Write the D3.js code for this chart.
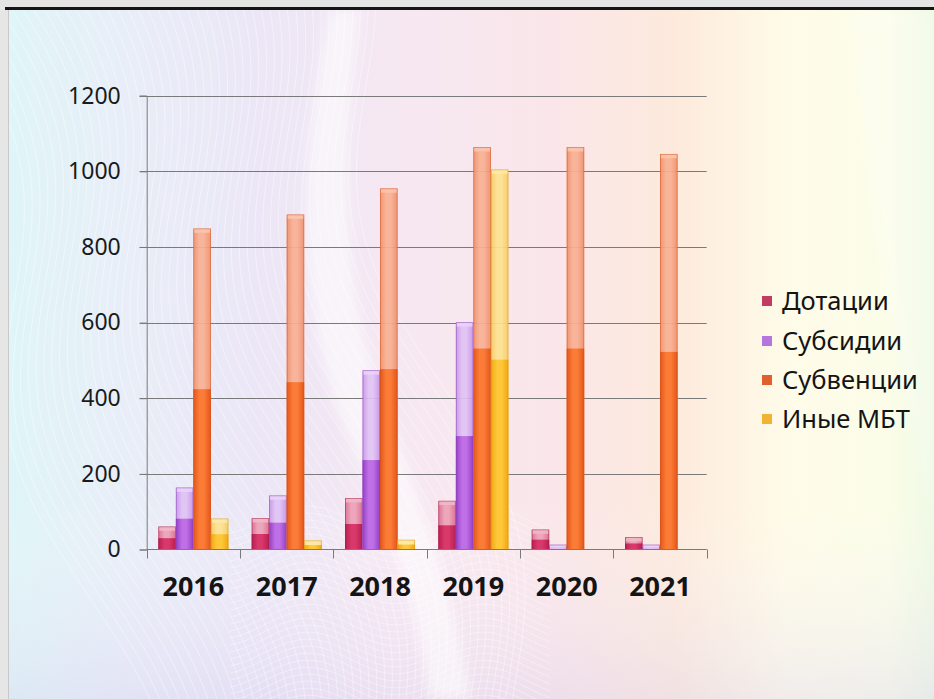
<!DOCTYPE html>
<html>
<head>
<meta charset="utf-8">
<script src="https://cdn.jsdelivr.net/npm/d3@7/dist/d3.min.js"></script>
<style>
html,body{margin:0;padding:0;background:#e6e6e6;}
svg{display:block;}
</style>
</head>
<body>
<svg id="chart" width="934" height="699"></svg>
<script>
// ---- data ----
const years = ["2016", "2017", "2018", "2019", "2020", "2021"];
const seriesNames = ["Дотации", "Субсидии", "Субвенции", "Иные МБТ"];
const dotacii   = [60, 82, 135, 128, 52, 32];
const subsidii  = [163, 142, 473, 600, 12, 12];
const subvencii = [848, 885, 954, 1063, 1063, 1045];
const inye      = [81, 23, 25, 1004, 0, 0];
const yTicks = [0, 200, 400, 600, 800, 1000, 1200];

const seriesValues = [dotacii, subsidii, subvencii, inye];

const palette = [
  {lowEdge:"#b81e50", lowMid:"#d8386a", upEdge:"#d86a8c", upMid:"#eca0b6", cap:"#f2b8c8", legend:"#c23c62", stroke:"#a51a48"},
  {lowEdge:"#9440c4", lowMid:"#c070e6", upEdge:"#c594e6", upMid:"#e0c2f4", cap:"#ead4f8", legend:"#b476dc", stroke:"#8a3cb8"},
  {lowEdge:"#e4561a", lowMid:"#fb7c36", upEdge:"#ef8e6a", upMid:"#f8b092", cap:"#fbc6ae", legend:"#e0602e", stroke:"#d04e18"},
  {lowEdge:"#eea812", lowMid:"#ffc83a", upEdge:"#f6ca5c", upMid:"#fde290", cap:"#fee9ac", legend:"#f2b232", stroke:"#d8980c"}
];

const svg = d3.select("#chart");
const defs = svg.append("defs");

// ---- background ----
const bg = defs.append("linearGradient").attr("id","bgGrad").attr("x1","0").attr("y1","0").attr("x2","1").attr("y2","0");
[["0%","#dff5f7"],["12%","#e8eef8"],["28%","#ece6f6"],["42%","#f6e8f2"],["58%","#fae6ea"],["72%","#fdeadc"],["84%","#fffbe8"],["95%","#fbfde8"],["100%","#eef9e4"]]
  .forEach(s=>bg.append("stop").attr("offset",s[0]).attr("stop-color",s[1]));
const bgV = defs.append("linearGradient").attr("id","bgV").attr("x1","0").attr("y1","0").attr("x2","0").attr("y2","1");
bgV.append("stop").attr("offset","0%").attr("stop-color","#ffffff").attr("stop-opacity",0.0);
bgV.append("stop").attr("offset","70%").attr("stop-color","#ffffff").attr("stop-opacity",0.0);
bgV.append("stop").attr("offset","100%").attr("stop-color","#d8d0f0").attr("stop-opacity",0.35);

svg.append("rect").attr("x",0).attr("y",0).attr("width",934).attr("height",699).attr("fill","#e6e6e6");
svg.append("rect").attr("x",9).attr("y",10).attr("width",925).attr("height",689).attr("fill","url(#bgGrad)");
svg.append("rect").attr("x",9).attr("y",10).attr("width",925).attr("height",689).attr("fill","url(#bgV)");

// decorative wave texture
const waveG = svg.append("g").attr("clip-path","url(#bgClip)");
defs.append("clipPath").attr("id","bgClip").append("rect").attr("x",9).attr("y",10).attr("width",925).attr("height",689);
const waveLine = d3.line().curve(d3.curveBasis);
for (let k = 0; k < 46; k++) {
  const pts = [];
  for (let t = 0; t <= 40; t++) {
    const yy = 10 + t * 18;
    const xx = -60 + k * 9 + 40 * Math.sin(yy / 95 + k * 0.05) + yy * 0.25;
    pts.push([xx, yy]);
  }
  waveG.append("path").attr("d", waveLine(pts)).attr("fill","none")
    .attr("stroke","#ffffff").attr("stroke-width",1).attr("opacity",0.4);
}
for (let k = 0; k < 30; k++) {
  const pts = [];
  for (let t = 0; t <= 40; t++) {
    const xx = 230 + t * 8;
    const yy = 520 + k * 7 + 14 * Math.sin(xx / 28);
    pts.push([xx, yy]);
  }
  waveG.append("path").attr("d", waveLine(pts)).attr("fill","none")
    .attr("stroke","#ffffff").attr("stroke-width",1).attr("opacity",0.35);
}
defs.append("filter").attr("id","blur").append("feGaussianBlur").attr("stdDeviation",6);
waveG.append("path")
  .attr("d","M330,10 C300,160 290,300 350,440 C390,530 420,620 430,699 L470,699 C455,600 420,500 390,420 C340,300 340,150 360,10 Z")
  .attr("fill","#ffffff").attr("opacity",0.55).attr("filter","url(#blur)");
waveG.append("path")
  .attr("d","M850,10 C870,200 900,400 934,520 L934,10 Z")
  .attr("fill","#ffffff").attr("opacity",0.25).attr("filter","url(#blur)");

// top frame
svg.append("rect").attr("x",0).attr("y",0).attr("width",934).attr("height",7).attr("fill","#e4e4e4");
svg.append("rect").attr("x",5).attr("y",7).attr("width",929).attr("height",3).attr("fill","#151515");
svg.append("line").attr("x1",8.5).attr("x2",8.5).attr("y1",10).attr("y2",699).attr("stroke","#c8c8c8").attr("stroke-width",1);

// ---- scales ----
const plotLeft = 146.7, plotRight = 706.7, plotTop = 95.7, plotBottom = 549.5;
const x = d3.scaleBand().domain(years).range([plotLeft, plotRight]).paddingInner(0.25).paddingOuter(0.125);
const xs = d3.scaleBand().domain(seriesNames).range([0, x.bandwidth()]);
const y = d3.scaleLinear().domain([0, 1200]).range([plotBottom, plotTop]);

// gridlines
const grid = svg.append("g");
grid.selectAll("line").data(yTicks.filter(d=>d>0)).join("line")
  .attr("x1", plotLeft - 7).attr("x2", plotRight)
  .attr("y1", d=>Math.round(y(d))+0.5).attr("y2", d=>Math.round(y(d))+0.5)
  .attr("stroke","#7a7a7a").attr("stroke-width",1);

// y axis labels
const yAxis = d3.axisLeft(y).tickValues(yTicks).tickSize(7).tickPadding(19).tickFormat(d3.format("d"));
const yg = svg.append("g").attr("transform",`translate(${plotLeft},0)`).call(yAxis);
yg.select(".domain").attr("stroke","#7a7a7a");
yg.selectAll(".tick line").attr("stroke","#7a7a7a");
yg.selectAll("text").attr("font-family","'Noto Sans', 'Open Sans', sans-serif").attr("font-size",23).attr("fill","#1a1a1a");

// ---- gradients for bars ----
palette.forEach((p,i)=>{
  const lo = defs.append("linearGradient").attr("id","lo"+i).attr("x1","0").attr("x2","1").attr("y1","0").attr("y2","0");
  [["0%",p.lowEdge],["35%",p.lowMid],["60%",p.lowMid],["100%",p.lowEdge]].forEach(s=>lo.append("stop").attr("offset",s[0]).attr("stop-color",s[1]));
  const up = defs.append("linearGradient").attr("id","up"+i).attr("x1","0").attr("x2","1").attr("y1","0").attr("y2","0");
  [["0%",p.upEdge],["35%",p.upMid],["60%",p.upMid],["100%",p.upEdge]].forEach(s=>up.append("stop").attr("offset",s[0]).attr("stop-color",s[1]));
});

// ---- bars ----
const barData = [];
years.forEach((yr, yi)=>{
  seriesNames.forEach((s, si)=>{
    barData.push({year: yr, series: s, si: si, value: seriesValues[si][yi]});
  });
});
const bars = svg.append("g").selectAll("g").data(barData.filter(d=>d.value>0)).join("g")
  .attr("transform", d=>`translate(${x(d.year) + xs(d.series)},0)`);
const bw = xs.bandwidth();
bars.append("rect").attr("x",0).attr("width",bw)
  .attr("y", d=>y(d.value)).attr("height", d=>y(0)-y(d.value))
  .attr("fill", d=>`url(#up${d.si})`).attr("opacity",0.92);
bars.append("rect").attr("x",0).attr("width",bw)
  .attr("y", d=>y(d.value/2)).attr("height", d=>y(0)-y(d.value/2))
  .attr("fill", d=>`url(#lo${d.si})`);
bars.append("rect").attr("x",0.5).attr("width",bw-1)
  .attr("y", d=>y(d.value)).attr("height", d=>Math.min(4, y(0)-y(d.value)))
  .attr("fill", d=>palette[d.si].cap).attr("opacity",0.85);
bars.append("rect").attr("x",0.4).attr("width",bw-0.8)
  .attr("y", d=>y(d.value)).attr("height", d=>y(0)-y(d.value))
  .attr("fill","none").attr("stroke", d=>palette[d.si].stroke).attr("stroke-width",0.8).attr("stroke-opacity",0.6);

// x axis
const xAxis = d3.axisBottom(x).tickSize(0).tickPadding(27);
const xg = svg.append("g").attr("transform",`translate(0,${plotBottom})`).call(xAxis);
xg.select(".domain").remove();
xg.selectAll("text").attr("font-family","'Noto Sans', 'Open Sans', sans-serif").attr("font-weight","bold").attr("font-size",27).attr("fill","#141414");
svg.append("line").attr("x1",plotLeft).attr("x2",plotRight).attr("y1",plotBottom).attr("y2",plotBottom).attr("stroke","#7a7a7a");
const bounds = years.map(yr=>x(yr) - x.step()*x.paddingInner()/2).concat([plotRight]);
svg.append("g").selectAll("line").data(bounds).join("line")
  .attr("x1",d=>Math.round(d)+0.5).attr("x2",d=>Math.round(d)+0.5)
  .attr("y1",plotBottom).attr("y2",plotBottom+9).attr("stroke","#7a7a7a");

// ---- legend ----
const legendY = [301, 341, 380, 419];
const lg = svg.append("g").selectAll("g").data(seriesNames).join("g")
  .attr("transform",(d,i)=>`translate(762,${legendY[i]})`);
lg.append("rect").attr("x",0).attr("y",-5).attr("width",10).attr("height",10)
  .attr("fill",(d,i)=>palette[i].legend);
lg.append("text").attr("x",20).attr("y",0).attr("dy","0.35em")
  .attr("font-family","'Noto Sans', 'Open Sans', sans-serif").attr("font-size",25.5).attr("fill","#141414")
  .text(d=>d);
</script>
</body>
</html>
